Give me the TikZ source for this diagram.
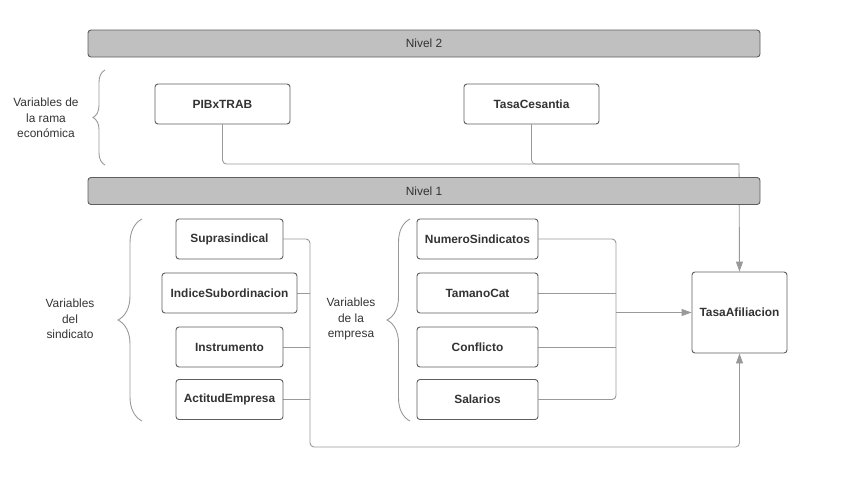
\documentclass[tikz,border=0pt]{standalone}
\usepackage{fontspec}
\setmainfont{Liberation Sans}
\usetikzlibrary{positioning, arrows.meta, backgrounds, decorations.pathreplacing}

\definecolor{linea}{HTML}{999999}
\definecolor{borde}{HTML}{5E5E5E}
\definecolor{relleno}{HTML}{C0C0C0}
\definecolor{texto}{HTML}{333333}

\begin{document}
\begin{tikzpicture}[x=1pt,y=-1pt,
    font=\fontsize{11.9}{15.5}\selectfont, text=texto,
    caja/.style={draw=borde, rounded corners=3pt, fill=white, line width=0.9pt,
                 minimum height=40pt, font=\fontsize{11.9}{15.5}\selectfont\bfseries},
    barra/.style={draw=borde, rounded corners=3pt, fill=relleno, line width=0.9pt,
                  minimum width=672pt, minimum height=27pt},
    conector/.style={draw=linea, line width=0.9pt, rounded corners=4pt},
    flecha/.style={conector, -{Triangle[length=10pt,width=7pt]}},
    llave/.style={draw=linea, line width=0.9pt, decorate, decoration={brace,amplitude=#1}},
    etiqueta/.style={align=center}]
    \useasboundingbox (0,0) rectangle (852,485);

    %%% NIVELES %%%
    \node[barra] (nivel2) at (424,43.5) {Nivel 2};
    \node[barra] (nivel1) at (424,191) {Nivel 1};

    %%% NIVEL 2: rama economica %%%
    \node[caja, minimum width=135pt] (pib)      at (222.5,104) {PIBxTRAB};
    \node[caja, minimum width=135pt] (cesantia) at (531.5,104) {TasaCesantia};
    \draw[llave=12pt] (105,165) -- (105,70);
    \node[etiqueta] (rama) at (46,118) {Variables de\\la rama\\económica};

    %%% NIVEL 1: sindicato %%%
    \node[caja, minimum width=107pt] (supra)   at (229.5,239)   {Suprasindical};
    \node[caja, minimum width=135pt] (indice)  at (229.5,293)   {IndiceSubordinacion};
    \node[caja, minimum width=107pt] (instr)   at (229.5,347)   {Instrumento};
    \node[caja, minimum width=107pt] (actitud) at (229.5,399.5) {ActitudEmpresa};
    \draw[llave=24pt] (142,421) -- (142,219);
    \node[etiqueta] (sindicato) at (70,319) {Variables\\del\\sindicato};

    %%% NIVEL 1: empresa %%%
    \node[caja, minimum width=121pt] (numsind)   at (477.5,239)   {NumeroSindicatos};
    \node[caja, minimum width=121pt] (tamano)    at (477.5,293)   {TamanoCat};
    \node[caja, minimum width=121pt] (conflicto) at (477.5,347)   {Conflicto};
    \node[caja, minimum width=121pt] (salarios)  at (477.5,399.5) {Salarios};
    \draw[llave=23pt] (410,421) -- (410,219);
    \node[etiqueta] (empresa) at (351,319) {Variables\\de la\\empresa};

    %%% VARIABLE DEPENDIENTE %%%
    \node[caja, minimum width=95pt, minimum height=81pt] (afil) at (739.5,312.5) {TasaAfiliacion};

    %%% CONECTORES %%%
    \coordinate (union2) at (739,164);
    \coordinate (bajoizq) at (310,447);
    \coordinate (bajoder) at (739.5,447);
    \coordinate (union1) at (616,312.5);
    \begin{scope}[on background layer]
        % rama economica
        \draw[conector] (pib.south) |- (union2);
        \draw[conector] (cesantia.south) |- (union2);
        \draw[flecha] (union2) -- (afil.north);
        % sindicato
        \draw[flecha] (supra.east) -| (bajoizq) -- (bajoder) -- (afil.south);
        \draw[conector] (indice.east) -- (indice.east -| bajoizq);
        \draw[conector] (instr.east) -- (instr.east -| bajoizq);
        \draw[conector] (actitud.east) -- (actitud.east -| bajoizq);
        % empresa
        \draw[conector] (numsind.east) -| (union1);
        \draw[conector] (salarios.east) -| (union1);
        \draw[conector] (tamano.east) -- (tamano.east -| union1);
        \draw[conector] (conflicto.east) -- (conflicto.east -| union1);
        \draw[flecha] (union1) -- (afil.west);
    \end{scope}
\end{tikzpicture}
\end{document}
